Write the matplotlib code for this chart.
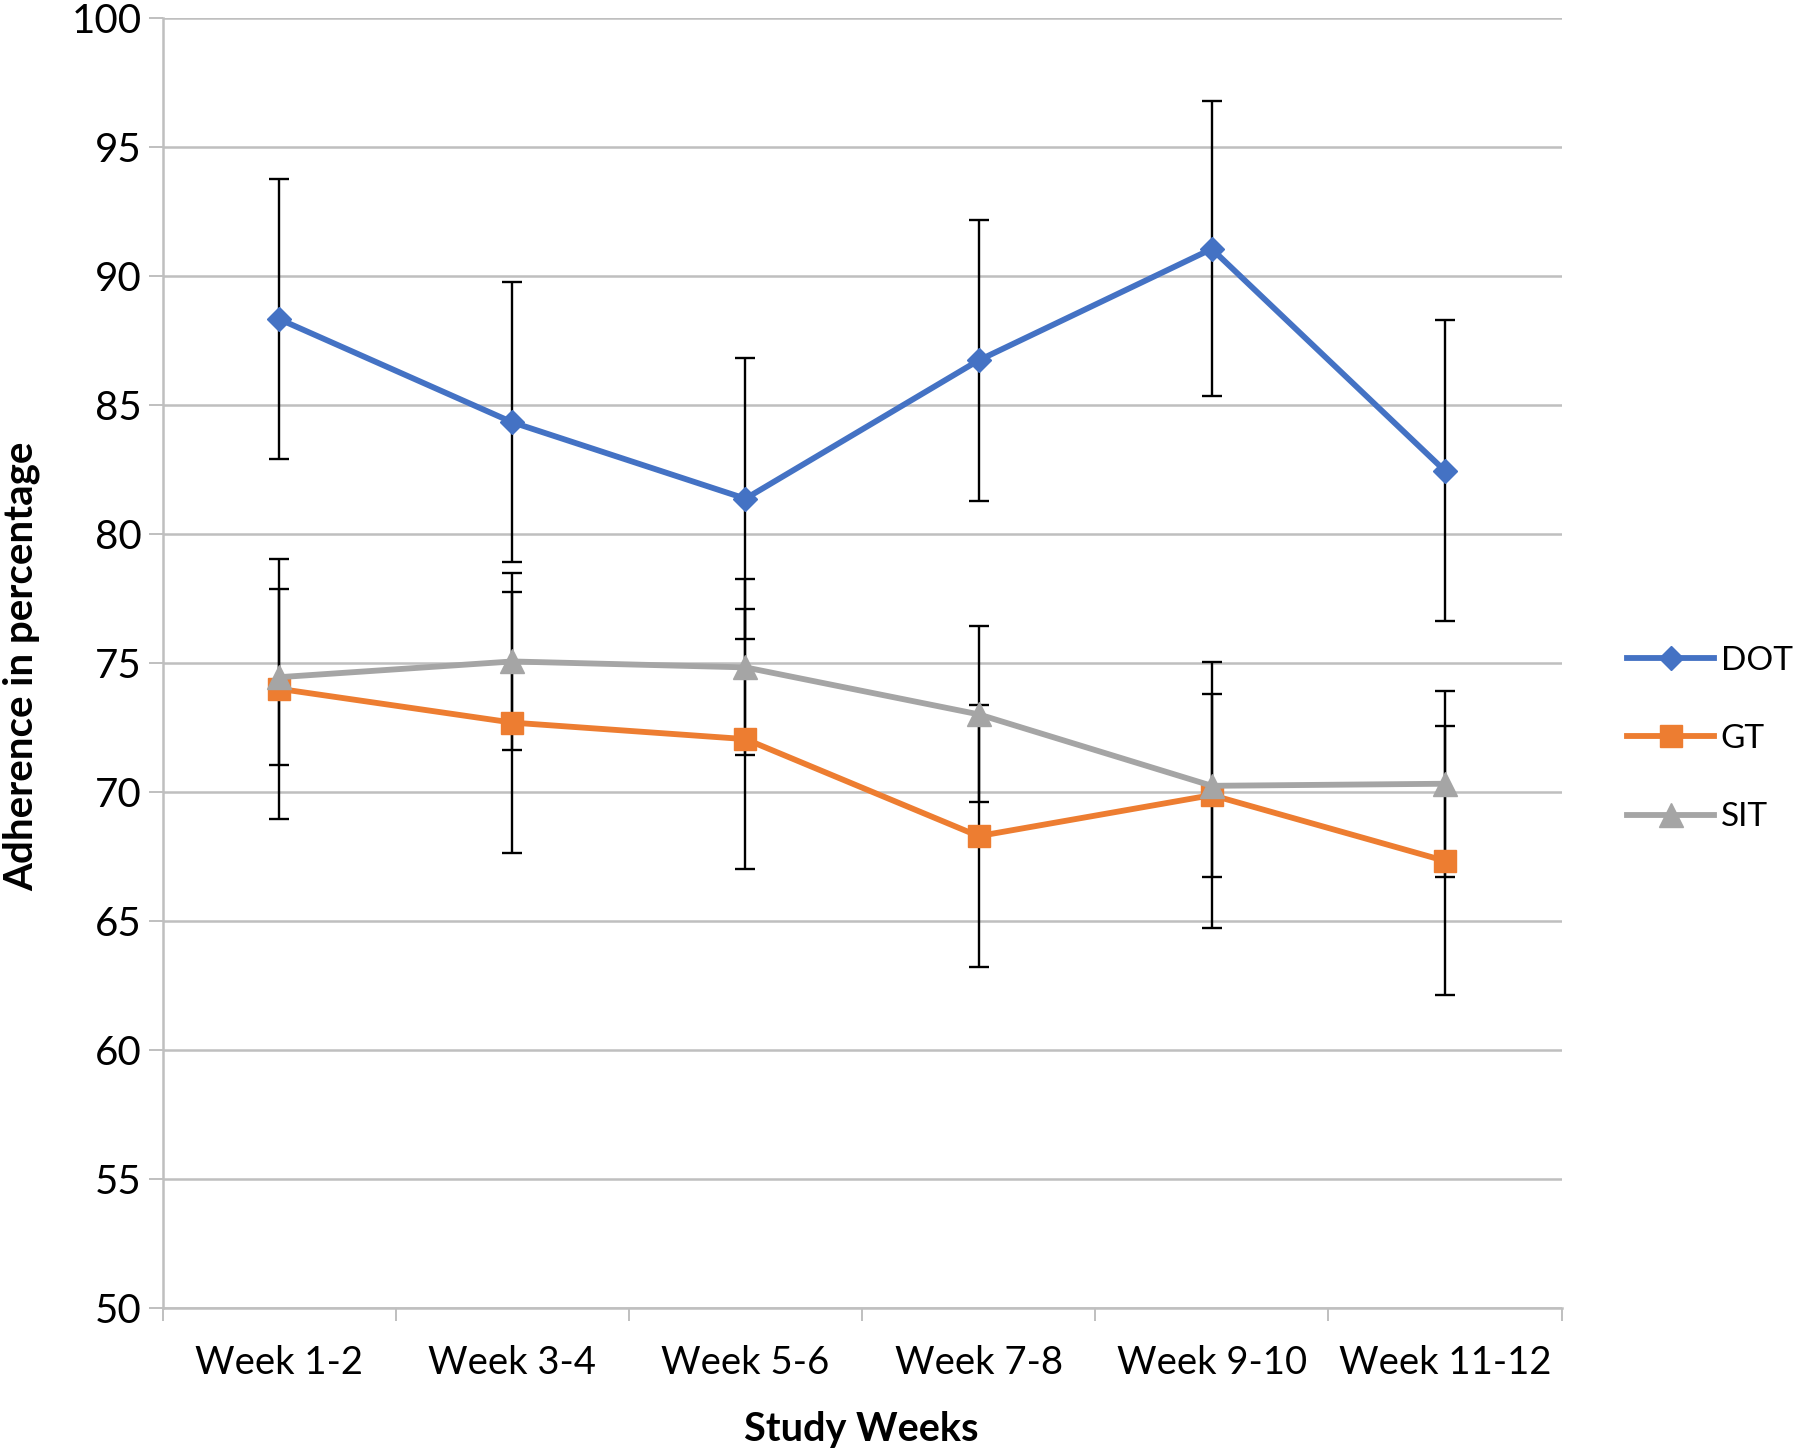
import matplotlib
matplotlib.use("Agg")
import matplotlib.pyplot as plt
import numpy as np

plt.rcParams["font.family"] = ["Lato", "DejaVu Sans"]

weeks = ["Week 1-2", "Week 3-4", "Week 5-6", "Week 7-8", "Week 9-10", "Week 11-12"]

dot_mean = [88.33, 84.33, 81.37, 86.73, 91.05, 82.45]
dot_err = [5.43, 5.43, 5.44, 5.44, 5.72, 5.84]

gt_mean = [74.0, 72.69, 72.05, 68.29, 69.88, 67.33]
gt_err = [5.05, 5.05, 5.05, 5.07, 5.16, 5.21]

sit_mean = [74.45, 75.06, 74.83, 73.01, 70.24, 70.32]
sit_err = [3.41, 3.42, 3.41, 3.41, 3.55, 3.61]

series = [
    ("DOT", dot_mean, dot_err, "#4472C4", "D", 12),
    ("GT", gt_mean, gt_err, "#ED7D31", "s", 16),
    ("SIT", sit_mean, sit_err, "#A5A5A5", "^", 17),
]

W, H = 1800, 1453
fig = plt.figure(figsize=(W / 100, H / 100), dpi=100)
ax = fig.add_axes([0.0903, 0.0998, 0.7772, 0.8878])

x = np.arange(len(weeks)) + 0.5

for i, (name, mean, err, color, marker, ms) in enumerate(series):
    ax.errorbar(x, mean, yerr=err, fmt="none", ecolor="black",
                elinewidth=1.7, capsize=7, capthick=1.7, zorder=3)
    ax.plot(x, mean, color=color, linewidth=4.2, marker=marker,
            markersize=ms, label=name, zorder=4 + i)

ax.set_ylim(50, 100)
ax.set_xlim(0, len(weeks))
ax.set_yticks(np.arange(50, 101, 5))
ax.yaxis.grid(True, color="#BFBFBF", linewidth=1.8)
ax.set_axisbelow(True)

# category boundaries get the tick marks, labels sit in between
ax.set_xticks(np.arange(len(weeks) + 1))
ax.set_xticklabels([])
ax.set_xticks(x, minor=True)
ax.set_xticklabels(weeks, minor=True)
ax.tick_params(axis="x", which="major", length=9, width=1.4, color="#BFBFBF")
ax.tick_params(axis="x", which="minor", length=0, pad=27, labelsize=27.5)
ax.tick_params(axis="y", length=10, width=1.4, color="#BFBFBF", labelsize=29, pad=5)

for side in ["top", "right"]:
    ax.spines[side].set_visible(False)
for side in ["left", "bottom"]:
    ax.spines[side].set_color("#BFBFBF")
    ax.spines[side].set_linewidth(1.8)

fig.text(861 / W, 1 - 1430 / H, "Study Weeks", fontsize=28.5, fontweight="bold",
         ha="center", va="center")
fig.text(21 / W, 1 - 666 / H, "Adherence in percentage", fontsize=29,
         fontweight="bold", rotation=90, ha="center", va="center")

fig.legend(loc="center left", bbox_to_anchor=(1627 / W, 1 - 739 / H),
           frameon=False, fontsize=24, handlelength=2.61, labelspacing=1.45,
           handletextpad=0.2, borderpad=0, borderaxespad=0)

fig.savefig("out.png", dpi=100)
